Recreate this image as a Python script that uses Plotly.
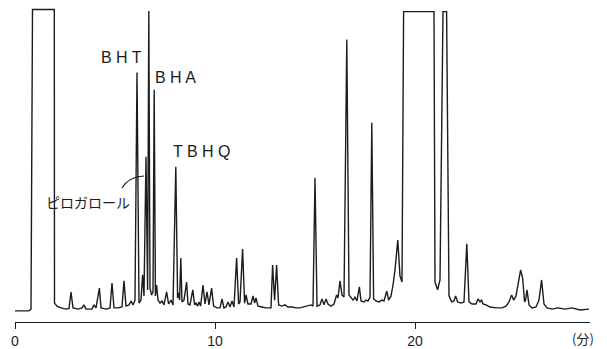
import plotly.graph_objects as go

# Chromatogram trace vertices: time (min) and relative intensity
time_min = [
    0.0, 0.7, 0.8, 0.875, 1.965, 1.975, 2.1, 2.3, 2.55, 2.7, 2.8, 2.9, 3.15, 3.35, 3.45, 3.55,
    3.85, 3.95, 4.05, 4.22, 4.3, 4.55, 4.75, 4.85, 4.95, 5.15, 5.35, 5.45, 5.55, 5.7, 5.8, 5.9,
    6.0, 6.1, 6.2, 6.3, 6.38, 6.45, 6.55, 6.63, 6.69, 6.75, 6.83, 6.9, 6.96, 7.02, 7.08, 7.15,
    7.25, 7.35, 7.45, 7.58, 7.68, 7.8, 7.9, 8.04, 8.13, 8.18, 8.23, 8.29, 8.35, 8.45, 8.58, 8.65,
    8.75, 8.89, 8.98, 9.05, 9.13, 9.2, 9.28, 9.4, 9.5, 9.6, 9.7, 9.83, 9.93, 10.1, 10.25, 10.35,
    10.45, 10.55, 10.65, 10.75, 10.85, 10.95, 11.08, 11.18, 11.25, 11.38, 11.48, 11.55, 11.65, 11.8, 11.9, 11.98,
    12.05, 12.15, 12.35, 12.55, 12.8, 12.88, 12.98, 13.08, 13.18, 13.35, 13.5, 13.65, 13.85, 14.05, 14.25, 14.45,
    14.65, 14.8, 14.9, 15.0, 15.1, 15.25, 15.35, 15.45, 15.55, 15.65, 15.8, 15.95, 16.08, 16.15, 16.25, 16.35,
    16.45, 16.59, 16.7, 16.8, 16.9, 17.0, 17.1, 17.22, 17.3, 17.45, 17.55, 17.65, 17.75, 17.84, 17.93, 18.05,
    18.2, 18.35, 18.45, 18.59, 18.68, 18.8, 18.9, 19.0, 19.14, 19.25, 19.35, 19.43, 20.95, 21.0, 21.13, 21.25,
    21.4, 21.58, 21.7, 21.83, 21.95, 22.03, 22.13, 22.3, 22.45, 22.59, 22.7, 22.85, 23.05, 23.15, 23.25, 23.33,
    23.4, 23.55, 23.75, 24.05, 24.35, 24.55, 24.7, 24.83, 24.93, 25.05, 25.15, 25.28, 25.38, 25.48, 25.53, 25.6,
    25.7, 25.85, 26.05, 26.2, 26.33, 26.45, 26.6, 26.85, 27.15, 27.5, 27.85, 28.25, 28.7,
]
intensity = [
    -0.3, -0.3, 0.3, 100, 100, 2.3, 1.3, 0.7, 0.3, 0.5, 6.0, 0.7, 0.3, 0.7, 1.7, 0.3,
    0.3, 1.7, 0.7, 7.3, 0.7, 0.3, 0.7, 9.0, 0.7, 0.7, 1.0, 9.7, 1.3, 1.7, 3.0, 1.7,
    3.3, 79, 2.3, 3.3, 11.7, 4.7, 51, 6.7, 99.5, 7.3, 5.0, 6.0, 73.3, 4.7, 8.3, 3.3,
    2.3, 3.0, 1.7, 6.0, 2.0, 3.3, 1.7, 47.7, 4.0, 5.7, 3.3, 17.3, 2.7, 3.3, 9.3, 2.0,
    1.7, 6.7, 1.7, 2.3, 1.3, 2.7, 1.3, 8.3, 2.0, 6.0, 1.7, 7.3, 1.3, 0.7, 0.7, 3.7,
    0.7, 1.0, 2.7, 1.0, 3.0, 1.0, 17.3, 2.0, 2.7, 20.3, 2.3, 5.0, 2.0, 2.0, 4.7, 2.3,
    4.0, 1.3, 1.0, 0.7, 0.7, 15.0, 3.3, 15.0, 1.7, 1.3, 1.7, 1.0, 1.0, 0.7, 0.7, 1.0,
    1.3, 1.7, 1.3, 44, 1.3, 1.7, 3.7, 1.7, 3.7, 2.0, 1.3, 2.0, 5.0, 4.0, 9.7, 5.0,
    4.3, 90, 5.0, 4.0, 3.3, 4.3, 3.0, 7.7, 3.0, 2.7, 3.3, 3.0, 4.3, 62.3, 3.7, 3.0,
    2.7, 3.3, 3.0, 6.3, 3.3, 4.7, 8.3, 13.3, 23.3, 11.3, 9.3, 99.3, 99.3, 9.3, 6.7, 10.0,
    99.3, 99.3, 4.7, 2.7, 3.0, 4.7, 2.7, 2.3, 2.7, 22.0, 2.7, 2.0, 2.0, 3.7, 2.7, 3.3,
    2.0, 1.7, 1.0, 0.7, 0.7, 1.3, 2.7, 5.0, 3.3, 4.7, 8.3, 13.3, 10.7, 2.7, 3.3, 6.7,
    1.7, 0.7, 1.0, 3.3, 10.0, 2.0, 0.7, 0.3, 0.7, 0.3, 0.7, 0.0, 0.3,
]

tick_values = [0, 10, 20]
tick_labels = ["0", "10", "20"]
axis_unit = "(分)"

peak_labels = ["B H T", "B H A", "T B H Q", "ピロガロール"]
label_times = [5.3, 8.0, 9.35, 3.65]
label_levels = [83.9, 77.5, 52.6, 35.9]

INK = "#1c1c1c"

fig = go.Figure()
fig.add_trace(go.Scatter(
    x=time_min, y=intensity, mode="lines",
    line=dict(color=INK, width=1.4),
    hoverinfo="skip", showlegend=False,
))

for txt, tx, ty in zip(peak_labels, label_times, label_levels):
    is_cjk = any(ord(c) > 0x3000 for c in txt)
    fig.add_annotation(
        x=tx, y=ty, xref="x", yref="y", text=txt, showarrow=False,
        font=dict(family="Noto Sans CJK JP" if is_cjk else "Liberation Sans",
                  size=14 if is_cjk else 16, color=INK),
        xanchor="center", yanchor="middle",
    )

# leader line from the pyrogallol label to its peak
fig.add_shape(
    type="path", xref="x", yref="y",
    path="M 5.35,40.6 Q 5.65,44.3 6.45,44.6",
    line=dict(color=INK, width=1.1),
)

fig.add_annotation(
    x=0.988, y=-0.051, xref="paper", yref="paper", text=axis_unit, showarrow=False,
    font=dict(family="Noto Sans CJK JP", size=13, color=INK),
    xanchor="center", yanchor="middle",
)

# page body has an 8px margin, so the figure is sized to fit inside the window
fig.update_layout(
    width=599, height=341,
    margin=dict(l=7, r=17, t=0, b=27),
    paper_bgcolor="white", plot_bgcolor="white",
    xaxis=dict(
        range=[0, 28.75], tickmode="array", tickvals=tick_values, ticktext=tick_labels,
        ticks="outside", ticklen=6, tickwidth=1.3, tickcolor=INK,
        showline=True, linecolor=INK, linewidth=1.4,
        showgrid=False, zeroline=False,
        tickfont=dict(family="Liberation Sans", size=14, color=INK),
    ),
    yaxis=dict(range=[-3.99, 100.5], visible=False, showgrid=False, zeroline=False),
)

fig.write_html("out.html")
